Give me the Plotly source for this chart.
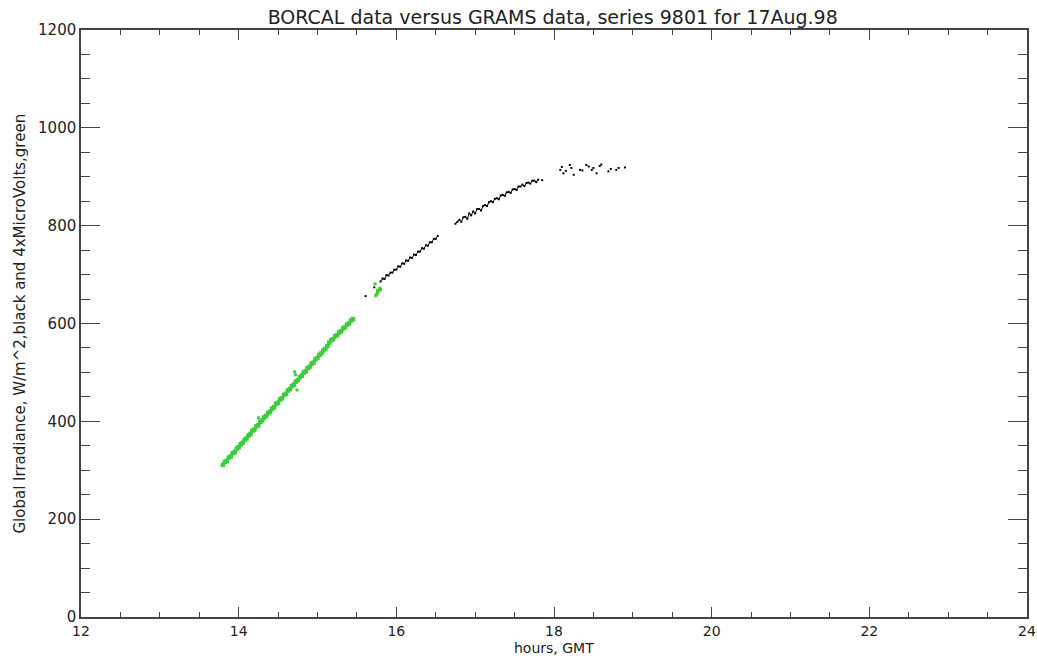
import plotly.graph_objects as go

# ---- data ----
green_x = [13.800, 13.825, 13.850, 13.875, 13.900, 13.925, 13.950, 13.975, 14.000, 14.025,
           14.050, 14.075, 14.100, 14.125, 14.150, 14.175, 14.200, 14.225, 14.250, 14.275,
           14.300, 14.325, 14.350, 14.375, 14.400, 14.425, 14.450, 14.475, 14.500, 14.525,
           14.550, 14.575, 14.600, 14.625, 14.650, 14.675, 14.700, 14.725, 14.750, 14.775,
           14.800, 14.825, 14.850, 14.875, 14.900, 14.925, 14.950, 14.975, 15.000, 15.025,
           15.050, 15.075, 15.100, 15.125, 15.150, 15.175, 15.200, 15.225, 15.250, 15.275,
           15.300, 15.325, 15.350, 15.375, 15.400, 15.425, 15.450]
green_y = [311, 317, 319, 326, 328, 335, 337, 344, 347, 353,
           356, 362, 365, 371, 374, 381, 383, 390, 392, 399,
           402, 408, 411, 417, 420, 426, 429, 436, 438, 445,
           447, 454, 456, 463, 466, 472, 475, 481, 484, 490,
           493, 500, 502, 509, 511, 518, 520, 527, 530, 536,
           539, 545, 548, 554, 561, 566, 568, 574, 576, 582,
           584, 590, 592, 598, 600, 606, 609]
green_extra_x = [14.25, 14.71, 14.74, 14.72, 15.73, 15.74, 15.76, 15.78, 15.80, 15.76, 15.79, 15.75]
green_extra_y = [407, 501, 464, 495, 681, 657, 662, 666, 670, 668, 672, 660]

black_x = [15.800, 15.825, 15.850, 15.875, 15.900, 15.925, 15.950, 15.975, 16.000, 16.025,
           16.050, 16.075, 16.100, 16.125, 16.150, 16.175, 16.200, 16.225, 16.250, 16.275,
           16.300, 16.325, 16.350, 16.375, 16.400, 16.425, 16.450, 16.475, 16.500, 16.525,
           None,
           16.750, 16.775, 16.800, 16.825, 16.850, 16.875, 16.900, 16.925, 16.950, 16.975,
           17.000, 17.025, 17.050, 17.075, 17.100, 17.125, 17.150, 17.175, 17.200, 17.225,
           17.250, 17.275, 17.300, 17.325, 17.350, 17.375, 17.400, 17.425, 17.450, 17.475,
           17.500, 17.525, 17.550, 17.575, 17.600, 17.625, 17.650, 17.675, 17.700, 17.725,
           17.750, 17.775, 17.800]
black_y = [686, 692, 691, 699, 698, 704, 704, 710, 710, 717,
           716, 723, 722, 729, 728, 735, 734, 741, 740, 747,
           747, 754, 753, 760, 759, 766, 766, 773, 773, 779,
           None,
           804, 808, 812, 808, 817, 818, 814, 825, 821, 829,
           825, 834, 834, 831, 840, 842, 840, 848, 850, 848,
           855, 856, 854, 862, 863, 861, 868, 869, 867, 874,
           875, 873, 880, 880, 884, 881, 887, 888, 886, 892,
           892, 889, 894]
black_dots_x = [15.61, 15.72, 17.85, 18.08, 18.10, 18.12, 18.15, 18.20, 18.22, 18.25, 18.33,
                18.36, 18.41, 18.44, 18.48, 18.50, 18.54, 18.58, 18.60, 18.69, 18.72,
                18.79, 18.82, 18.90]
black_dots_y = [656, 674, 893, 914, 920, 907, 912, 924, 918, 904, 914,
                913, 924, 921, 914, 918, 907, 922, 925, 911, 916,
                914, 918, 919]

x_range = [12, 24]
y_range = [0, 1200]
x_ticks = [12, 14, 16, 18, 20, 22, 24]
y_ticks = [0, 200, 400, 600, 800, 1000, 1200]

title_text = "BORCAL data versus GRAMS data, series 9801 for 17Aug.98"
x_title = "hours, GMT"
y_title = "Global Irradiance, W/m^2,black and 4xMicroVolts,green"

GREEN = "#3ccc3c"
INK = "#222222"
AX = "#444444"
FONT = "DejaVu Sans"

fig = go.Figure()
fig.add_trace(go.Scatter(x=green_x, y=green_y, mode="lines+markers",
                         line=dict(color=GREEN, width=3),
                         marker=dict(color=GREEN, size=4.5, symbol="square", line=dict(width=0)),
                         showlegend=False))
fig.add_trace(go.Scatter(x=green_extra_x, y=green_extra_y, mode="markers",
                         marker=dict(color=GREEN, size=3, symbol="square", line=dict(width=0)),
                         showlegend=False))
fig.add_trace(go.Scatter(x=black_x, y=black_y, mode="lines+markers",
                         line=dict(color="black", width=1),
                         marker=dict(color="black", size=2, symbol="square", line=dict(width=0)),
                         connectgaps=False, showlegend=False))
fig.add_trace(go.Scatter(x=black_dots_x, y=black_dots_y, mode="markers",
                         marker=dict(color="black", size=2, symbol="square", line=dict(width=0)),
                         showlegend=False))

axis_common = dict(showgrid=False, zeroline=False, showline=True, linecolor=AX, linewidth=1.5,
                   mirror="ticks", ticks="inside", tickcolor=AX, tickwidth=1.2,
                   automargin=False)

fig.update_xaxes(range=x_range, tickvals=x_ticks, ticklen=10,
                 tickfont=dict(family=FONT, size=14, color=INK),
                 minor=dict(dtick=0.5, ticks="inside", ticklen=5, tickcolor=AX, tickwidth=1.2),
                 **axis_common)
fig.update_yaxes(range=y_range, tickvals=y_ticks, ticklen=19,
                 tickfont=dict(family=FONT, size=15, color=INK),
                 minor=dict(dtick=50, ticks="inside", ticklen=9, tickcolor=AX, tickwidth=1.2),
                 **axis_common)

fig.add_annotation(text=x_title, xref="paper", yref="paper", x=0.5, y=0,
                   xanchor="center", yanchor="middle", yshift=-31, showarrow=False,
                   font=dict(family=FONT, size=14, color=INK))
fig.add_annotation(text=y_title, xref="paper", yref="paper", x=0, y=0.5,
                   xanchor="center", yanchor="middle", xshift=-62, textangle=-90, showarrow=False,
                   font=dict(family=FONT, size=15, color=INK))

fig.update_layout(
    width=1037, height=658,
    margin=dict(l=81, r=10, t=30, b=41),
    paper_bgcolor="white", plot_bgcolor="white",
    title=dict(text=title_text, x=0.533, xanchor="center", y=0.974, yanchor="middle",
               font=dict(family=FONT, size=19, color=INK)),
    font=dict(family=FONT, color=INK),
)

# remove the default 8px page margin so the figure fills the window exactly
fig.write_html("out.html",
               config={"displayModeBar": False},
               post_script="document.body.style.margin='0px';"
                           "document.documentElement.style.overflow='hidden';")
